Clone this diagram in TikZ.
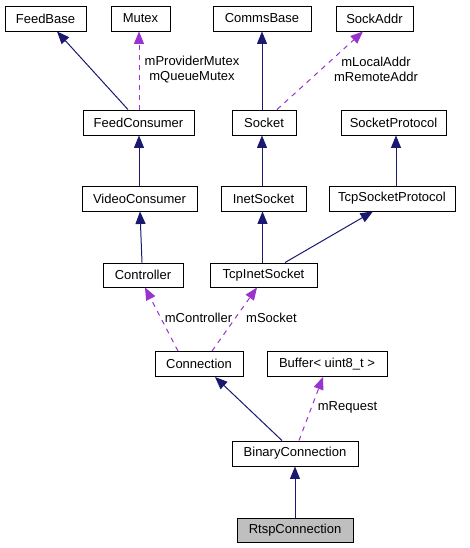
\documentclass[tikz,border=0pt]{standalone}
\usepackage{fontspec}
\setmainfont{Liberation Sans}
\usetikzlibrary{arrows.meta}
\definecolor{navyc}{HTML}{191970}
\definecolor{purc}{HTML}{9A32CD}
\begin{document}
\begin{tikzpicture}[x=1pt,y=-1pt,
  cls/.style={draw=black,line width=0.9pt,fill=white,inner sep=0pt,minimum height=25pt,font=\fontsize{13}{15}\selectfont},
  inh/.style={draw=navyc,line width=1pt,-{Triangle[length=12.5pt,width=10pt]}},
  use/.style={draw=purc,line width=1pt,dash pattern=on 5pt off 5pt,-{Triangle[length=12.5pt,width=10pt]}},
  lbl/.style={font=\fontsize{13}{15}\selectfont,align=center,inner sep=0pt}]
\useasboundingbox[fill=white] (0,0) rectangle (469,548);
% row 1
\node[cls,minimum width=81pt] (fb) at (45.5,18.5) {FeedBase};
\node[cls,minimum width=59pt] (mutex) at (140.5,18.5) {Mutex};
\node[cls,minimum width=98pt] (comms) at (262,18.5) {CommsBase};
\node[cls,minimum width=77pt] (sa) at (374.5,18.5) {SockAddr};
% row 2
\node[cls,minimum width=111pt] (fc) at (138.5,122.5) {FeedConsumer};
\node[cls,minimum width=64pt] (sock) at (264,122.5) {Socket};
\node[cls,minimum width=105pt] (sp) at (393.5,122.5) {SocketProtocol};
% row 3
\node[cls,minimum width=115pt] (vc) at (139.5,198.5) {VideoConsumer};
\node[cls,minimum width=85pt] (inet) at (263.5,198.5) {InetSocket};
\node[cls,minimum width=126pt] (tsp) at (392,198.5) {TcpSocketProtocol};
% row 4
\node[cls,minimum width=80pt,minimum height=24pt] (ctrl) at (143,275) {Controller};
\node[cls,minimum width=107pt,minimum height=24pt] (tis) at (263.5,275) {TcpInetSocket};
% row 5
\node[cls,minimum width=88pt] (conn) at (199,364) {Connection};
\node[cls,minimum width=120pt] (buf) at (327,364) {Buffer< uint8\_t >};
% row 6
\node[cls,minimum width=126pt] (bc) at (295,453.5) {BinaryConnection};
\node[cls,minimum width=116pt,minimum height=24pt,fill={rgb,255:red,191;green,191;blue,191}] (rtsp) at (295,530) {RtspConnection};
% edges
\draw[inh] ([xshift=-10.5pt]fc.north) -- ([xshift=11.5pt]fb.south);
\draw[use] ([xshift=0.5pt]fc.north) -- ([xshift=-1.5pt]mutex.south);
\draw[inh] ([xshift=-2pt]sock.north) -- (comms.south);
\draw[use] ([xshift=13pt]sock.north) -- ([xshift=-11.5pt]sa.south);
\draw[inh] ([xshift=-0.5pt]vc.north) -- ([xshift=0.5pt]fc.south);
\draw[inh] ([xshift=-1.5pt]inet.north) -- ([xshift=-2pt]sock.south);
\draw[inh] ([xshift=4pt]tsp.north) -- ([xshift=2.5pt]sp.south);
\draw[inh] ([xshift=-1pt]ctrl.north) -- ([xshift=0.5pt]vc.south);
\draw[inh] ([xshift=-1pt]tis.north) -- ([xshift=-1pt]inet.south);
\draw[inh] ([xshift=21.5pt]tis.north) -- ([xshift=-19pt]tsp.south);
\draw[use] ([xshift=-21pt]conn.north) -- ([xshift=2pt]ctrl.south);
\draw[use] ([xshift=13pt]conn.north) -- ([xshift=-6.5pt]tis.south);
\draw[inh] ([xshift=-13pt]bc.north) -- ([xshift=16pt]conn.south);
\draw[use] ([xshift=4pt]bc.north) -- ([xshift=-4pt]buf.south);
\draw[inh] (rtsp.north) -- (bc.south);
% labels
\node[lbl] (l1) at (192,69.5) {mProviderMutex\\mQueueMutex};
\node[lbl] (l2) at (376,69.5) {mLocalAddr\\mRemoteAddr};
\node[lbl] (l3) at (198.5,318) {mController};
\node[lbl] (l4) at (271.5,318) {mSocket};
\node[lbl] (l5) at (347.5,407) {mRequest};
\end{tikzpicture}
\end{document}
